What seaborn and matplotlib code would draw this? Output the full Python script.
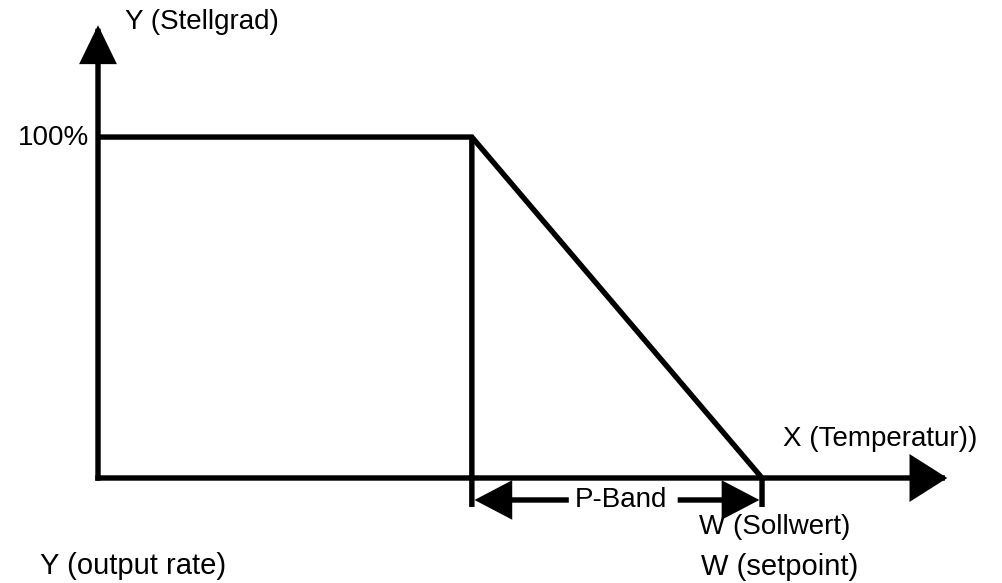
import numpy as np
import pandas as pd
import matplotlib
matplotlib.use("Agg")
import matplotlib.pyplot as plt
import seaborn as sns

# Kennlinie P-Regler (Stellgrad ueber Temperatur)
x_temp = [0, 56.3, 100]          # Beginn Stellgrad, Beginn P-Band, Sollwert W
y_out = [100, 100, 0]            # Stellgrad in %
band_start = 56.3
setpoint = 100
x_axis_end = 127.9
y_axis_end = 132.8

label_100 = "100%"
label_y_de = "Y (Stellgrad)"
label_x_de = "X (Temperatur))"
label_w_de = "W (Sollwert)"
label_w_en = "W (setpoint)"
label_y_en = "Y (output rate)"
label_band = "P-Band"

df = pd.DataFrame({"Temperatur": x_temp, "Stellgrad": y_out})

sns.set_theme(style="white")
plt.rcParams["font.family"] = ["Liberation Sans", "DejaVu Sans"]
plt.rcParams["text.color"] = "black"

fig = plt.figure(figsize=(10.02, 5.83), dpi=100)
ax = fig.add_axes([0, 0, 1, 1])
ax.set_xlim(-14.76, 136.14)
ax.set_ylim(-30.8, 140.2)
ax.axis("off")

lw = 3.9
# Kennlinie
sns.lineplot(data=df, x="Temperatur", y="Stellgrad", sort=False, color="black",
             lw=lw, ax=ax, solid_joinstyle="miter", solid_capstyle="butt")

# senkrechte Linie am Beginn des P-Bands und Markierung am Sollwert
ax.plot([band_start, band_start], [100, -8.5], color="black", lw=lw,
        solid_capstyle="butt", snap=False)
ax.plot([setpoint, setpoint], [0, -8.5], color="black", lw=lw,
        solid_capstyle="butt", snap=False)


def pfeil(start, tip, hl, hw, cap="butt"):
    ax.annotate("", xy=tip, xytext=start,
                arrowprops=dict(arrowstyle=f"-|>,head_length={hl},head_width={hw}",
                                mutation_scale=1, color="black", lw=lw,
                                joinstyle="miter", capstyle=cap,
                                shrinkA=0, shrinkB=0))


# Achsen mit Pfeilspitzen (eckiger Ursprung)
pfeil((0, 0), (0, y_axis_end), 21.6, 10.5, cap="projecting")
pfeil((0, 0), (x_axis_end, 0), 21.6, 13.7, cap="projecting")

# P-Band Pfeile
band_y = -6.45
pfeil((70.9, band_y), (band_start + 0.4, band_y), 21, 11)
pfeil((87.3, band_y), (setpoint - 0.4, band_y), 21, 11)

fs = 20
ax.text(78.8, band_y, label_band, fontsize=fs, ha="center", va="center")
ax.text(-1.3, 99.7, label_100, fontsize=fs, ha="right", va="center")
ax.text(4.1, 131.7, label_y_de, fontsize=fs, ha="left", va="baseline")
ax.text(103.2, 9.4, label_x_de, fontsize=fs, ha="left", va="baseline")
ax.text(101.9, -16.3, label_w_de, fontsize=fs, ha="center", va="baseline")
ax.text(102.6, -28.4, label_w_en, fontsize=21, ha="center", va="baseline")
ax.text(-8.7, -28.2, label_y_en, fontsize=21, ha="left", va="baseline")

fig.savefig("out.png", dpi=100)
